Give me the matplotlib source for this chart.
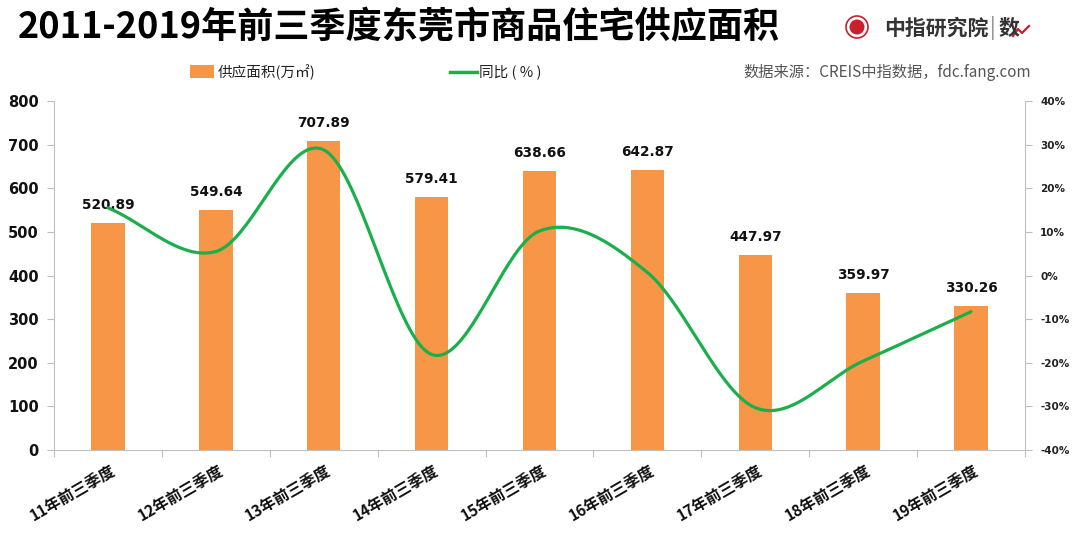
import numpy as np
import matplotlib
matplotlib.use("Agg")
import matplotlib.pyplot as plt
from matplotlib.patches import Circle, Rectangle
from matplotlib.lines import Line2D
from matplotlib.font_manager import FontProperties

plt.rcParams['font.family'] = ['Noto Sans CJK SC', 'DejaVu Sans']

categories = ["11年前三季度", "12年前三季度", "13年前三季度", "14年前三季度", "15年前三季度",
              "16年前三季度", "17年前三季度", "18年前三季度", "19年前三季度"]
supply = [520.89, 549.64, 707.89, 579.41, 638.66, 642.87, 447.97, 359.97, 330.26]
yoy = [15.5, 5.5, 28.8, -18.1, 10.2, 0.7, -30.3, -19.6, -8.3]
left_ticks = [0, 100, 200, 300, 400, 500, 600, 700, 800]
right_ticks = [-40, -30, -20, -10, 0, 10, 20, 30, 40]

BAR = "#F79646"
GREEN = "#1AAF4B"
AXC = "#BFBFBF"

num_big = FontProperties(family='DejaVu Sans', weight='bold', size=10.5)
num_lab = FontProperties(family='DejaVu Sans', weight='bold', size=9.8)
num_small = FontProperties(family='DejaVu Sans', weight='bold', size=7.5)

fig = plt.figure(figsize=(10.8, 5.48), dpi=100)
ax = fig.add_axes([54/1080, 1-450/548, (1025-54)/1080, (450-101)/548])
ax2 = ax.twinx()

x = np.arange(len(categories))
ax.bar(x, supply, width=0.31, color=BAR, zorder=2)
for xi, v in zip(x, supply):
    ax.text(xi, v + 25, f"{v:.2f}", ha='center', va='bottom', fontproperties=num_lab,
            color='#111111')

ax.set_xlim(-0.5, len(categories) - 0.5)
ax.set_ylim(0, 800)
ax.set_yticks(left_ticks)
ax.set_yticklabels([str(t) for t in left_ticks], color='#111111')
for lab in ax.get_yticklabels():
    lab.set_fontproperties(num_big)

ax.set_xticks(np.arange(-0.5, len(categories) + 0.5, 1), minor=False)
ax.set_xticklabels([])
ax.tick_params(axis='x', length=5, color=AXC, direction='out')
ax.tick_params(axis='y', length=5, color=AXC, direction='out', pad=6)
for xi, c in zip(x, categories):
    ax.text(xi + 0.02, -30, c, rotation=30, ha='right', va='top', fontsize=11.2,
            fontweight='bold', rotation_mode='anchor', color='#111111')

for s in ['top', 'right']:
    ax.spines[s].set_visible(False)
ax.spines['left'].set_color(AXC)
ax.spines['bottom'].set_color(AXC)

def catmull(xs, ys, n=40):
    P = np.column_stack([xs, ys]).astype(float)
    P = np.vstack([2*P[0]-P[1], P, 2*P[-1]-P[-2]])
    out = []
    for i in range(1, len(P)-2):
        p0, p1, p2, p3 = P[i-1], P[i], P[i+1], P[i+2]
        t = np.linspace(0, 1, n)[:, None]
        seg = 0.5*((2*p1) + (-p0+p2)*t + (2*p0-5*p1+4*p2-p3)*t**2 + (-p0+3*p1-3*p2+p3)*t**3)
        out.append(seg if i == 1 else seg[1:])
    return np.vstack(out)

curve = catmull(x, yoy)
ax2.plot(curve[:, 0], curve[:, 1], color=GREEN, lw=2.3, solid_capstyle='round', zorder=3)
ax2.set_ylim(-40, 40)
ax2.set_yticks(right_ticks)
ax2.set_yticklabels([f"{t}%" for t in right_ticks], color='#222222')
for lab in ax2.get_yticklabels():
    lab.set_fontproperties(num_small)
ax2.tick_params(axis='y', length=5, color=AXC, direction='out', pad=6)
for s in ['top', 'left', 'bottom']:
    ax2.spines[s].set_visible(False)
ax2.spines['right'].set_color(AXC)
ax.set_zorder(1)
ax2.set_zorder(2)
ax2.patch.set_visible(False)

# title
fig.text(18/1080, 1-28/548, "2011-2019年前三季度东莞市商品住宅供应面积", fontsize=26,
         fontweight='heavy', ha='left', va='center', color='black')

# logo
fig.patches.append(Circle((857, 548-27), 11, transform=None, facecolor='white',
                          edgecolor='#C8202F', lw=1.2))
fig.patches.append(Circle((857, 548-27), 7.5, transform=None, facecolor='#C8202F',
                          edgecolor='none'))
fig.text(884/1080, 1-28/548, "中指研究院", fontsize=15, fontweight='bold', color='#333333',
         ha='left', va='center')
fig.text(990/1080, 1-28/548, "|", fontsize=15, color='#888888', ha='left', va='center')
fig.text(999/1080, 1-28/548, "数", fontsize=15, fontweight='bold', color='#333333',
         ha='left', va='center')
fig.lines.append(Line2D([1013, 1018, 1022, 1029], [548-36, 548-29, 548-33, 548-26],
                        transform=None, color='#C8202F', lw=1.6))

# legend
fig.patches.append(Rectangle((190, 548-78), 24, 13, transform=None, facecolor=BAR, edgecolor='none'))
fig.text(218/1080, 1-72/548, "供应面积(万㎡)", fontsize=10.5, ha='left', va='center', color='#222222')
fig.lines.append(Line2D([450, 477], [548-72, 548-72], transform=None, color=GREEN, lw=2.5))
fig.text(479/1080, 1-72/548, "同比 ( % )", fontsize=10.5, ha='left', va='center', color='#222222')
fig.text(1031/1080, 1-72/548, "数据来源：CREIS中指数据，fdc.fang.com", fontsize=11,
         ha='right', va='center', color='#555555')

fig.savefig("out.png", dpi=100)
